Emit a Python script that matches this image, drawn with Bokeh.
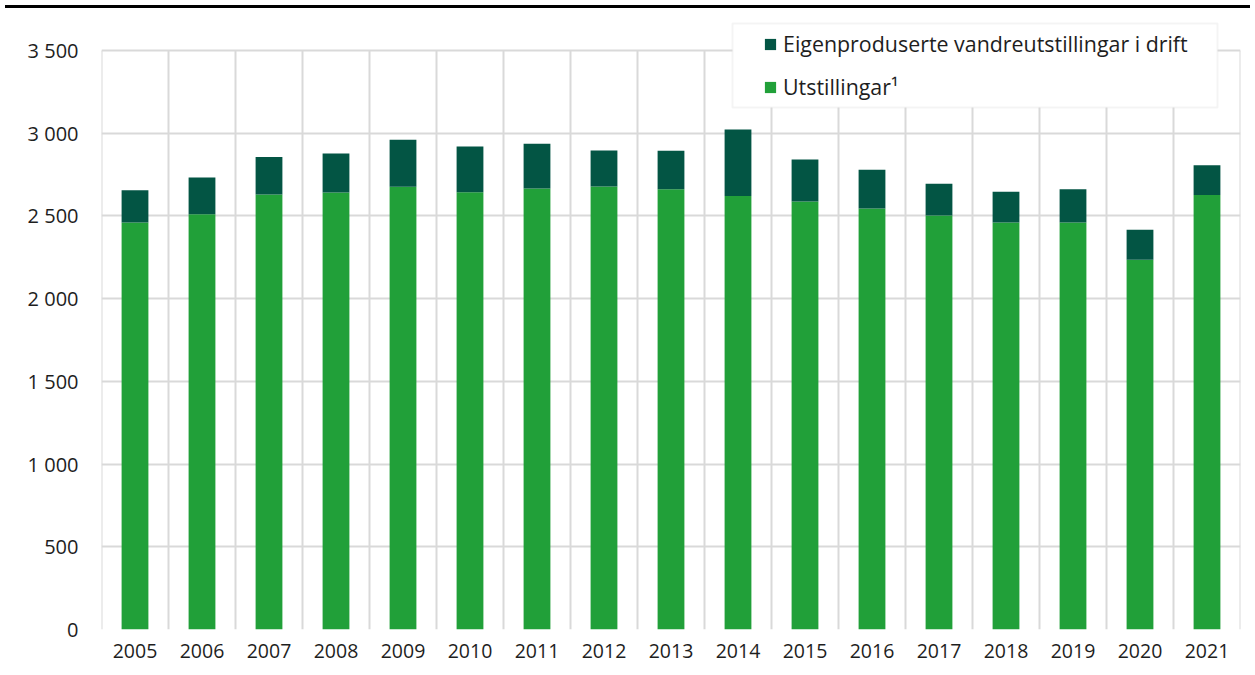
from bokeh.plotting import figure
from bokeh.models import (ColumnDataSource, FixedTicker, Legend, LegendItem,
                          BoxAnnotation, Div, Range1d)
from bokeh.layouts import column
from bokeh.embed import file_html
from bokeh.resources import INLINE

# ---- data ----
years = ["2005", "2006", "2007", "2008", "2009", "2010", "2011", "2012", "2013",
         "2014", "2015", "2016", "2017", "2018", "2019", "2020", "2021"]
utstillingar = [2460, 2510, 2630, 2642, 2676, 2644, 2666, 2678, 2662,
                2620, 2588, 2545, 2503, 2461, 2461, 2235, 2626]
vandreutstillingar = [196, 223, 226, 236, 285, 276, 271, 218, 232,
                      403, 254, 234, 192, 185, 201, 182, 181]
series_names = ["Utstillingar\u00b9", "Eigenproduserte vandreutstillingar i drift"]
y_ticks = [0, 500, 1000, 1500, 2000, 2500, 3000, 3500]
y_tick_labels = ["0", "500", "1\u00a0000", "1\u00a0500", "2\u00a0000",
                 "2\u00a0500", "3\u00a0000", "3\u00a0500"]

# ---- style ----
FONT = "Open Sans"
GREEN = "#21a039"
DARK = "#035544"
GRID = "#d9d9d9"
TEXT = "#1e1e1e"

xs = [i + 0.5 for i in range(len(years))]
src = ColumnDataSource(dict(x=xs, year=years, utst=utstillingar, vandre=vandreutstillingar))

p = figure(width=1247, height=658,
           x_range=Range1d(0, len(years)), y_range=Range1d(0, 3724),
           output_backend="svg", toolbar_location=None,
           min_border_left=101, min_border_right=7, min_border_top=0, min_border_bottom=42)
p.outline_line_color = None
p.background_fill_color = "white"
p.border_fill_color = "white"

# grid
p.xgrid.visible = False
p.ygrid.ticker = FixedTicker(ticks=y_ticks)
p.ygrid.grid_line_color = GRID
p.ygrid.grid_line_width = 2
bounds = list(range(len(years) + 1))
p.segment(x0=bounds, y0=[y_ticks[0]] * len(bounds), x1=bounds, y1=[y_ticks[-1]] * len(bounds),
          line_color=GRID, line_width=2, level="underlay")

# bars
rs = p.vbar_stack(["utst", "vandre"], x="x", width=0.4, color=[GREEN, DARK],
                  line_color=None, source=src)

# axes
p.xaxis.ticker = FixedTicker(ticks=xs)
p.xaxis.major_label_overrides = {x: y for x, y in zip(xs, years)}
p.yaxis.ticker = FixedTicker(ticks=y_ticks)
p.yaxis.major_label_overrides = {t: l for t, l in zip(y_ticks, y_tick_labels)}
for ax in (p.xaxis[0], p.yaxis[0]):
    ax.axis_line_color = None
    ax.major_tick_line_color = None
    ax.minor_tick_line_color = None
    ax.major_tick_out = 0
    ax.major_tick_in = 0
    ax.major_label_text_font = FONT
    ax.major_label_text_color = TEXT
p.xaxis.major_label_text_font_size = "19.5px"
p.yaxis.major_label_text_font_size = "20px"
p.xaxis.major_label_standoff = 14
p.yaxis.major_label_standoff = 23

# legend box
box = BoxAnnotation(left=732, right=1217, top=10, bottom=94,
                    left_units="canvas", right_units="canvas",
                    top_units="canvas", bottom_units="canvas",
                    fill_color="white", fill_alpha=1.0,
                    line_color=GRID, line_width=2, level="annotation")
p.add_layout(box)

legend = Legend(items=[LegendItem(label=series_names[1], renderers=[rs[1]]),
                       LegendItem(label=series_names[0], renderers=[rs[0]])],
                location=(662, 528), orientation="vertical",
                border_line_color=None, background_fill_alpha=0.0,
                glyph_width=14, glyph_height=14, label_standoff=6,
                spacing=14, padding=0, margin=0, label_height=20,
                label_text_font=FONT, label_text_font_size="21.4px",
                label_text_color=TEXT)
p.add_layout(legend)

top_rule = Div(text="", width=1245, height=3, styles={"background-color": "#000000"})

layout = column(top_rule, p)
open("out.html", "w").write(file_html(layout, INLINE))
